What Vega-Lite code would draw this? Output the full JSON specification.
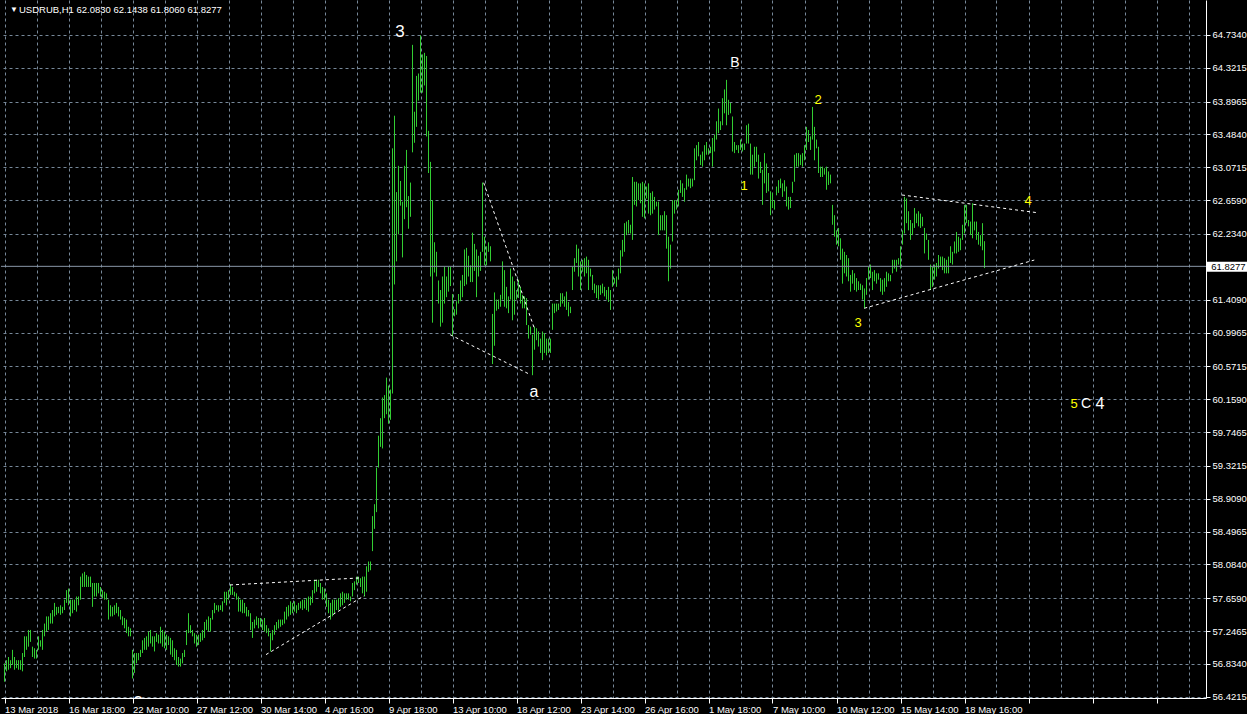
{
"$schema": "https://vega.github.io/schema/vega-lite/v6.json",
"width": 1205,
"height": 698,
"padding": 0,
"autosize": {"type": "pad"},
"background": "#000000",
"config": {"view": {"stroke": null}},
"datasets": {
"bars": [
{"i":0,"h":56.84,"l":56.61},{"i":1,"h":56.88,"l":56.74},{"i":2,"h":56.92,"l":56.76},{"i":3,"h":56.88,"l":56.78},{"i":4,"h":57.01,"l":56.82},
{"i":5,"h":56.92,"l":56.76},{"i":6,"h":56.88,"l":56.78},{"i":7,"h":56.88,"l":56.76},{"i":8,"h":56.88,"l":56.76},{"i":9,"h":56.97,"l":56.74},
{"i":10,"h":57.18,"l":56.92},{"i":11,"h":57.18,"l":57.01},{"i":12,"h":57.26,"l":57.05},{"i":13,"h":57.26,"l":57.11},{"i":14,"h":57.05,"l":56.92},
{"i":15,"h":57.03,"l":56.90},{"i":16,"h":57.01,"l":56.90},{"i":17,"h":57.18,"l":57.01},{"i":18,"h":57.13,"l":57.05},{"i":19,"h":57.26,"l":57.01},
{"i":20,"h":57.34,"l":57.18},{"i":21,"h":57.43,"l":57.24},{"i":22,"h":57.43,"l":57.26},{"i":23,"h":57.47,"l":57.34},{"i":24,"h":57.51,"l":57.34},
{"i":25,"h":57.60,"l":57.43},{"i":26,"h":57.55,"l":57.45},{"i":27,"h":57.55,"l":57.47},{"i":28,"h":57.57,"l":57.45},{"i":29,"h":57.55,"l":57.47},
{"i":30,"h":57.64,"l":57.51},{"i":31,"h":57.76,"l":57.60},{"i":32,"h":57.78,"l":57.57},{"i":33,"h":57.64,"l":57.43},{"i":34,"h":57.64,"l":57.47},
{"i":35,"h":57.64,"l":57.51},{"i":36,"h":57.68,"l":57.49},{"i":37,"h":57.68,"l":57.57},{"i":38,"h":57.93,"l":57.64},{"i":39,"h":57.97,"l":57.80},
{"i":40,"h":57.99,"l":57.80},{"i":41,"h":57.95,"l":57.80},{"i":42,"h":57.93,"l":57.80},{"i":43,"h":57.93,"l":57.80},{"i":44,"h":57.85,"l":57.55},
{"i":45,"h":57.85,"l":57.68},{"i":46,"h":57.85,"l":57.68},{"i":47,"h":57.85,"l":57.72},{"i":48,"h":57.80,"l":57.68},{"i":49,"h":57.76,"l":57.66},
{"i":50,"h":57.74,"l":57.64},{"i":51,"h":57.72,"l":57.64},{"i":52,"h":57.64,"l":57.39},{"i":53,"h":57.57,"l":57.43},{"i":54,"h":57.55,"l":57.43},
{"i":55,"h":57.57,"l":57.45},{"i":56,"h":57.60,"l":57.47},{"i":57,"h":57.55,"l":57.43},{"i":58,"h":57.51,"l":57.39},{"i":59,"h":57.43,"l":57.32},
{"i":60,"h":57.41,"l":57.28},{"i":61,"h":57.39,"l":57.22},{"i":62,"h":57.30,"l":57.18},{"i":63,"h":57.28,"l":57.18},{"i":64,"h":57.01,"l":56.65},
{"i":65,"h":56.97,"l":56.72},{"i":66,"h":56.97,"l":56.84},{"i":67,"h":56.97,"l":56.88},{"i":68,"h":57.01,"l":56.92},{"i":69,"h":57.13,"l":56.97},
{"i":70,"h":57.16,"l":57.01},{"i":71,"h":57.18,"l":57.01},{"i":72,"h":57.24,"l":57.05},{"i":73,"h":57.26,"l":57.09},{"i":74,"h":57.18,"l":57.05},
{"i":75,"h":57.18,"l":56.99},{"i":76,"h":57.22,"l":57.11},{"i":77,"h":57.20,"l":57.09},{"i":78,"h":57.30,"l":57.09},{"i":79,"h":57.26,"l":57.05},
{"i":80,"h":57.24,"l":57.03},{"i":81,"h":57.20,"l":57.01},{"i":82,"h":57.18,"l":57.07},{"i":83,"h":57.16,"l":56.95},{"i":84,"h":57.13,"l":56.92},
{"i":85,"h":57.03,"l":56.88},{"i":86,"h":57.01,"l":56.82},{"i":87,"h":56.92,"l":56.80},{"i":88,"h":56.90,"l":56.80},{"i":89,"h":56.97,"l":56.84},
{"i":90,"h":57.01,"l":56.92},{"i":91,"h":57.26,"l":57.07},{"i":92,"h":57.47,"l":57.22},{"i":93,"h":57.32,"l":57.22},{"i":94,"h":57.26,"l":57.18},
{"i":95,"h":57.22,"l":57.09},{"i":96,"h":57.20,"l":57.05},{"i":97,"h":57.20,"l":57.07},{"i":98,"h":57.22,"l":57.11},{"i":99,"h":57.26,"l":57.13},
{"i":100,"h":57.36,"l":57.16},{"i":101,"h":57.39,"l":57.26},{"i":102,"h":57.43,"l":57.24},{"i":103,"h":57.41,"l":57.24},{"i":104,"h":57.51,"l":57.39},
{"i":105,"h":57.60,"l":57.47},{"i":106,"h":57.57,"l":57.51},{"i":107,"h":57.57,"l":57.49},{"i":108,"h":57.57,"l":57.51},{"i":109,"h":57.62,"l":57.49},
{"i":110,"h":57.74,"l":57.60},{"i":111,"h":57.74,"l":57.57},{"i":112,"h":57.76,"l":57.64},{"i":113,"h":57.83,"l":57.70},{"i":114,"h":57.80,"l":57.70},
{"i":115,"h":57.74,"l":57.68},{"i":116,"h":57.72,"l":57.64},{"i":117,"h":57.68,"l":57.49},{"i":118,"h":57.64,"l":57.49},{"i":119,"h":57.64,"l":57.47},
{"i":120,"h":57.60,"l":57.47},{"i":121,"h":57.55,"l":57.43},{"i":122,"h":57.51,"l":57.43},{"i":123,"h":57.47,"l":57.26},{"i":124,"h":57.36,"l":57.16},
{"i":125,"h":57.39,"l":57.28},{"i":126,"h":57.43,"l":57.32},{"i":127,"h":57.41,"l":57.28},{"i":128,"h":57.41,"l":57.30},{"i":129,"h":57.39,"l":57.26},
{"i":130,"h":57.41,"l":57.24},{"i":131,"h":57.32,"l":57.22},{"i":132,"h":57.28,"l":57.18},{"i":133,"h":57.22,"l":56.99},{"i":134,"h":57.26,"l":57.13},
{"i":135,"h":57.32,"l":57.20},{"i":136,"h":57.36,"l":57.26},{"i":137,"h":57.39,"l":57.28},{"i":138,"h":57.39,"l":57.30},{"i":139,"h":57.39,"l":57.32},
{"i":140,"h":57.49,"l":57.34},{"i":141,"h":57.55,"l":57.39},{"i":142,"h":57.57,"l":57.43},{"i":143,"h":57.62,"l":57.45},{"i":144,"h":57.60,"l":57.47},
{"i":145,"h":57.62,"l":57.49},{"i":146,"h":57.57,"l":57.47},{"i":147,"h":57.60,"l":57.51},{"i":148,"h":57.62,"l":57.53},{"i":149,"h":57.64,"l":57.51},
{"i":150,"h":57.64,"l":57.53},{"i":151,"h":57.66,"l":57.51},{"i":152,"h":57.68,"l":57.49},{"i":153,"h":57.68,"l":57.57},{"i":154,"h":57.76,"l":57.60},
{"i":155,"h":57.89,"l":57.72},{"i":156,"h":57.89,"l":57.74},{"i":157,"h":57.89,"l":57.80},{"i":158,"h":57.85,"l":57.72},{"i":159,"h":57.80,"l":57.64},
{"i":160,"h":57.78,"l":57.64},{"i":161,"h":57.72,"l":57.55},{"i":162,"h":57.64,"l":57.47},{"i":163,"h":57.60,"l":57.39},{"i":164,"h":57.64,"l":57.43},
{"i":165,"h":57.64,"l":57.47},{"i":166,"h":57.64,"l":57.51},{"i":167,"h":57.66,"l":57.51},{"i":168,"h":57.72,"l":57.55},{"i":169,"h":57.74,"l":57.57},
{"i":170,"h":57.72,"l":57.60},{"i":171,"h":57.72,"l":57.64},{"i":172,"h":57.72,"l":57.64},{"i":173,"h":57.68,"l":57.62},{"i":174,"h":57.85,"l":57.68},
{"i":175,"h":57.87,"l":57.76},{"i":176,"h":57.93,"l":57.83},{"i":177,"h":57.93,"l":57.85},{"i":178,"h":57.91,"l":57.80},{"i":179,"h":57.93,"l":57.72},
{"i":180,"h":57.93,"l":57.68},{"i":181,"h":58.06,"l":57.74},{"i":182,"h":58.12,"l":57.99},{"i":183,"h":58.12,"l":58.01},{"i":184,"h":58.69,"l":58.25},
{"i":185,"h":58.84,"l":58.53},{"i":186,"h":59.30,"l":58.74},{"i":187,"h":59.70,"l":59.30},{"i":188,"h":59.92,"l":59.56},{"i":189,"h":60.18,"l":59.54},
{"i":190,"h":60.21,"l":59.92},{"i":191,"h":60.43,"l":59.97},{"i":192,"h":60.33,"l":59.85},{"i":193,"h":60.28,"l":59.90},{"i":194,"h":63.31,"l":60.23},
{"i":195,"h":63.72,"l":61.60},{"i":196,"h":62.76,"l":61.89},{"i":197,"h":63.09,"l":62.23},{"i":198,"h":62.90,"l":62.59},{"i":199,"h":62.64,"l":61.94},
{"i":200,"h":63.09,"l":62.42},{"i":201,"h":63.29,"l":62.57},{"i":202,"h":62.71,"l":62.30},{"i":203,"h":62.88,"l":62.45},{"i":204,"h":64.61,"l":63.26},
{"i":205,"h":63.77,"l":63.38},{"i":206,"h":64.22,"l":63.58},{"i":207,"h":64.25,"l":63.91},{"i":208,"h":64.73,"l":64.01},{"i":209,"h":64.49,"l":64.01},
{"i":210,"h":64.51,"l":64.10},{"i":211,"h":64.47,"l":63.46},{"i":212,"h":63.53,"l":63.00},{"i":213,"h":63.14,"l":61.70},{"i":214,"h":62.66,"l":61.12},
{"i":215,"h":62.13,"l":61.75},{"i":216,"h":62.01,"l":61.70},{"i":217,"h":61.65,"l":61.36},{"i":218,"h":61.53,"l":61.07},{"i":219,"h":61.70,"l":61.12},
{"i":220,"h":61.82,"l":61.36},{"i":221,"h":61.70,"l":61.44},{"i":222,"h":61.82,"l":61.51},{"i":223,"h":61.82,"l":61.58},{"i":224,"h":61.48,"l":60.95},
{"i":225,"h":61.29,"l":61.20},{"i":226,"h":61.39,"l":61.22},{"i":227,"h":61.48,"l":61.36},{"i":228,"h":61.65,"l":61.39},{"i":229,"h":61.72,"l":61.44},
{"i":230,"h":62.04,"l":61.58},{"i":231,"h":62.06,"l":61.60},{"i":232,"h":61.96,"l":61.70},{"i":233,"h":61.84,"l":61.63},{"i":234,"h":62.25,"l":61.63},
{"i":235,"h":62.11,"l":61.77},{"i":236,"h":62.04,"l":61.44},{"i":237,"h":61.96,"l":61.70},{"i":238,"h":62.01,"l":61.77},{"i":239,"h":62.88,"l":62.01},
{"i":240,"h":62.20,"l":61.84},{"i":241,"h":62.08,"l":61.84},{"i":242,"h":62.13,"l":62.01},{"i":243,"h":62.08,"l":61.89},{"i":244,"h":61.23,"l":60.60},
{"i":245,"h":61.50,"l":60.83},{"i":246,"h":61.41,"l":61.27},{"i":247,"h":61.41,"l":61.29},{"i":248,"h":61.47,"l":61.32},{"i":249,"h":61.89,"l":61.41},
{"i":250,"h":61.78,"l":61.32},{"i":251,"h":61.57,"l":61.30},{"i":252,"h":61.45,"l":61.24},{"i":253,"h":61.80,"l":61.41},{"i":254,"h":61.70,"l":61.15},
{"i":255,"h":61.64,"l":61.22},{"i":256,"h":61.53,"l":61.41},{"i":257,"h":61.66,"l":61.43},{"i":258,"h":61.57,"l":61.36},{"i":259,"h":61.47,"l":61.30},
{"i":260,"h":61.45,"l":61.30},{"i":261,"h":61.43,"l":61.09},{"i":262,"h":61.09,"l":60.92},{"i":263,"h":61.07,"l":60.97},{"i":264,"h":60.97,"l":60.46},
{"i":265,"h":61.07,"l":60.78},{"i":266,"h":61.05,"l":60.90},{"i":267,"h":61.01,"l":60.82},{"i":268,"h":60.92,"l":60.74},{"i":269,"h":61.01,"l":60.65},
{"i":270,"h":60.99,"l":60.74},{"i":271,"h":60.92,"l":60.71},{"i":272,"h":60.92,"l":60.74},{"i":273,"h":60.92,"l":60.74},{"i":274,"h":61.36,"l":61.03},
{"i":275,"h":61.36,"l":61.24},{"i":276,"h":61.36,"l":61.26},{"i":277,"h":61.36,"l":61.28},{"i":278,"h":61.49,"l":61.32},{"i":279,"h":61.49,"l":61.36},
{"i":280,"h":61.45,"l":61.32},{"i":281,"h":61.51,"l":61.28},{"i":282,"h":61.38,"l":61.20},{"i":283,"h":61.32,"l":61.24},{"i":284,"h":61.82,"l":61.53},
{"i":285,"h":61.93,"l":61.76},{"i":286,"h":62.10,"l":61.87},{"i":287,"h":62.05,"l":61.70},{"i":288,"h":61.89,"l":61.53},{"i":289,"h":61.91,"l":61.76},
{"i":290,"h":61.93,"l":61.70},{"i":291,"h":61.95,"l":61.74},{"i":292,"h":61.91,"l":61.53},{"i":293,"h":61.80,"l":61.70},{"i":294,"h":61.72,"l":61.53},
{"i":295,"h":61.61,"l":61.49},{"i":296,"h":61.59,"l":61.43},{"i":297,"h":61.59,"l":61.41},{"i":298,"h":61.59,"l":61.47},{"i":299,"h":61.61,"l":61.49},
{"i":300,"h":61.57,"l":61.45},{"i":301,"h":61.53,"l":61.41},{"i":302,"h":61.57,"l":61.38},{"i":303,"h":61.53,"l":61.28},{"i":304,"h":61.78,"l":61.57},
{"i":305,"h":61.68,"l":61.61},{"i":306,"h":61.70,"l":61.57},{"i":307,"h":61.80,"l":61.66},{"i":308,"h":62.03,"l":61.74},{"i":309,"h":62.16,"l":61.95},
{"i":310,"h":62.37,"l":62.01},{"i":311,"h":62.39,"l":62.22},{"i":312,"h":62.41,"l":62.24},{"i":313,"h":62.35,"l":62.24},{"i":314,"h":62.95,"l":62.16},
{"i":315,"h":62.89,"l":62.60},{"i":316,"h":62.89,"l":62.58},{"i":317,"h":62.87,"l":62.66},{"i":318,"h":62.87,"l":62.62},{"i":319,"h":62.89,"l":62.45},
{"i":320,"h":62.87,"l":62.43},{"i":321,"h":62.83,"l":62.68},{"i":322,"h":62.87,"l":62.49},{"i":323,"h":62.75,"l":62.47},{"i":324,"h":62.77,"l":62.49},
{"i":325,"h":62.70,"l":62.54},{"i":326,"h":62.64,"l":62.58},{"i":327,"h":62.64,"l":62.22},{"i":328,"h":62.47,"l":62.28},{"i":329,"h":62.47,"l":62.28},
{"i":330,"h":62.52,"l":62.28},{"i":331,"h":62.47,"l":62.05},{"i":332,"h":62.20,"l":61.64},{"i":333,"h":62.10,"l":61.80},{"i":334,"h":62.66,"l":62.14},
{"i":335,"h":62.66,"l":62.49},{"i":336,"h":62.66,"l":62.54},{"i":337,"h":62.79,"l":62.58},{"i":338,"h":62.91,"l":62.75},{"i":339,"h":62.87,"l":62.70},
{"i":340,"h":62.81,"l":62.64},{"i":341,"h":62.98,"l":62.79},{"i":342,"h":62.93,"l":62.83},{"i":343,"h":62.93,"l":62.81},{"i":344,"h":62.93,"l":62.83},
{"i":345,"h":63.31,"l":62.91},{"i":346,"h":63.35,"l":63.16},{"i":347,"h":63.39,"l":63.21},{"i":348,"h":63.23,"l":63.10},{"i":349,"h":63.27,"l":63.08},
{"i":350,"h":63.35,"l":63.16},{"i":351,"h":63.39,"l":63.23},{"i":352,"h":63.31,"l":63.23},{"i":353,"h":63.33,"l":63.25},{"i":354,"h":63.44,"l":63.08},
{"i":355,"h":63.48,"l":63.27},{"i":356,"h":63.65,"l":63.42},{"i":357,"h":63.81,"l":63.50},{"i":358,"h":63.65,"l":63.54},{"i":359,"h":63.94,"l":63.60},
{"i":360,"h":64.05,"l":63.75},{"i":361,"h":64.17,"l":63.60},{"i":362,"h":63.92,"l":63.73},{"i":363,"h":63.88,"l":63.75},{"i":364,"h":63.71,"l":63.27},
{"i":365,"h":63.39,"l":63.25},{"i":366,"h":63.35,"l":63.29},{"i":367,"h":63.35,"l":63.25},{"i":368,"h":63.42,"l":63.29},{"i":369,"h":63.37,"l":63.27},
{"i":370,"h":63.37,"l":63.29},{"i":371,"h":63.60,"l":63.37},{"i":372,"h":63.62,"l":63.37},{"i":373,"h":63.37,"l":62.98},{"i":374,"h":63.23,"l":62.98},
{"i":375,"h":63.33,"l":63.08},{"i":376,"h":63.33,"l":63.14},{"i":377,"h":63.23,"l":62.93},{"i":378,"h":63.14,"l":63.00},{"i":379,"h":63.04,"l":62.60},
{"i":380,"h":63.25,"l":62.87},{"i":381,"h":63.12,"l":62.75},{"i":382,"h":63.00,"l":62.77},{"i":383,"h":62.77,"l":62.47},{"i":384,"h":62.75,"l":62.56},
{"i":385,"h":62.66,"l":62.54},{"i":386,"h":62.83,"l":62.72},{"i":387,"h":62.91,"l":62.75},{"i":388,"h":62.93,"l":62.81},{"i":389,"h":62.87,"l":62.70},
{"i":390,"h":62.91,"l":62.77},{"i":391,"h":62.83,"l":62.58},{"i":392,"h":62.70,"l":62.54},{"i":393,"h":62.70,"l":62.56},{"i":394,"h":62.89,"l":62.75},
{"i":395,"h":63.23,"l":62.89},{"i":396,"h":63.25,"l":63.08},{"i":397,"h":63.25,"l":63.08},{"i":398,"h":63.23,"l":63.10},{"i":399,"h":63.25,"l":63.08},
{"i":400,"h":63.35,"l":63.16},{"i":401,"h":63.58,"l":63.29},{"i":402,"h":63.54,"l":63.39},{"i":403,"h":63.46,"l":63.29},{"i":404,"h":63.83,"l":63.42},
{"i":405,"h":63.58,"l":63.16},{"i":406,"h":63.42,"l":63.31},{"i":407,"h":63.33,"l":63.00},{"i":408,"h":63.08,"l":62.95},{"i":409,"h":63.08,"l":62.95},
{"i":410,"h":63.06,"l":62.98},{"i":411,"h":63.08,"l":62.79},{"i":412,"h":63.02,"l":62.85},{"i":413,"h":62.98,"l":62.87},{"i":414,"h":62.60,"l":62.35},
{"i":415,"h":62.47,"l":62.20},{"i":416,"h":62.28,"l":62.10},{"i":417,"h":62.31,"l":62.08},{"i":418,"h":62.18,"l":61.91},{"i":419,"h":62.05,"l":61.61},
{"i":420,"h":62.01,"l":61.74},{"i":421,"h":61.97,"l":61.70},{"i":422,"h":61.93,"l":61.64},{"i":423,"h":61.72,"l":61.51},{"i":424,"h":61.78,"l":61.61},
{"i":425,"h":61.74,"l":61.53},{"i":426,"h":61.68,"l":61.51},{"i":427,"h":61.64,"l":61.53},{"i":428,"h":61.61,"l":61.53},{"i":429,"h":61.59,"l":61.41},
{"i":430,"h":61.55,"l":61.30},{"i":431,"h":61.68,"l":61.47},{"i":432,"h":61.82,"l":61.66},{"i":433,"h":61.85,"l":61.68},{"i":434,"h":61.76,"l":61.53},
{"i":435,"h":61.78,"l":61.64},{"i":436,"h":61.74,"l":61.61},{"i":437,"h":61.74,"l":61.66},{"i":438,"h":61.68,"l":61.51},{"i":439,"h":61.66,"l":61.47},
{"i":440,"h":61.68,"l":61.51},{"i":441,"h":61.76,"l":61.57},{"i":442,"h":61.74,"l":61.64},{"i":443,"h":61.72,"l":61.64},{"i":444,"h":61.91,"l":61.74},
{"i":445,"h":61.91,"l":61.80},{"i":446,"h":61.91,"l":61.76},{"i":447,"h":61.93,"l":61.85},{"i":448,"h":62.08,"l":61.80},{"i":449,"h":62.28,"l":62.10},
{"i":450,"h":62.70,"l":62.24},{"i":451,"h":62.68,"l":62.37},{"i":452,"h":62.52,"l":62.28},{"i":453,"h":62.41,"l":62.16},{"i":454,"h":62.37,"l":62.22},
{"i":455,"h":62.56,"l":62.31},{"i":456,"h":62.49,"l":62.37},{"i":457,"h":62.52,"l":62.33},{"i":458,"h":62.49,"l":62.31},{"i":459,"h":62.45,"l":62.33},
{"i":460,"h":62.31,"l":61.99},{"i":461,"h":62.24,"l":62.16},{"i":462,"h":62.16,"l":61.91},{"i":463,"h":61.85,"l":61.53},{"i":464,"h":61.82,"l":61.57},
{"i":465,"h":61.85,"l":61.66},{"i":466,"h":61.87,"l":61.70},{"i":467,"h":61.97,"l":61.80},{"i":468,"h":61.95,"l":61.82},{"i":469,"h":61.95,"l":61.78},
{"i":470,"h":61.93,"l":61.74},{"i":471,"h":61.91,"l":61.74},{"i":472,"h":61.95,"l":61.74},{"i":473,"h":62.08,"l":61.87},{"i":474,"h":62.01,"l":61.85},
{"i":475,"h":62.14,"l":61.99},{"i":476,"h":62.26,"l":61.99},{"i":477,"h":62.20,"l":62.01},{"i":478,"h":62.18,"l":62.03},{"i":479,"h":62.35,"l":62.16},
{"i":480,"h":62.60,"l":62.24},{"i":481,"h":62.60,"l":62.37},{"i":482,"h":62.41,"l":62.33},{"i":483,"h":62.39,"l":62.22},{"i":484,"h":62.62,"l":62.18},
{"i":485,"h":62.39,"l":62.28},{"i":486,"h":62.39,"l":62.16},{"i":487,"h":62.26,"l":62.10},{"i":488,"h":62.22,"l":62.08},{"i":489,"h":62.37,"l":62.03},
{"i":490,"h":62.1438,"l":61.806}
],
"lines": [
{"seg":"t1","i":112.75,"l":57.825},{"seg":"t1","i":177.25,"l":57.913},
{"seg":"t2","i":130.75,"l":56.95},{"seg":"t2","i":179.9,"l":57.69},
{"seg":"t3","i":239.6,"l":62.878},{"seg":"t3","i":264.9,"l":61.05},
{"seg":"t4","i":222.8,"l":60.969},{"seg":"t4","i":262.3,"l":60.475},
{"seg":"t5","i":448.75,"l":62.724},{"seg":"t5","i":516.25,"l":62.502},
{"seg":"t6","i":429.9,"l":61.301},{"seg":"t6","i":514.9,"l":61.907}
],
"labels": [
{"i":197.75,"l":64.771,"t":"3","c":"#ffffff","s":17},
{"i":365.25,"l":64.382,"t":"B","c":"#ffffff","s":14},
{"i":264.75,"l":60.249,"t":"a","c":"#ffffff","s":16},
{"i":406.75,"l":63.917,"t":"2","c":"#ffff00","s":13},
{"i":369.75,"l":62.837,"t":"1","c":"#ffff00","s":13},
{"i":426.75,"l":61.116,"t":"3","c":"#ffff00","s":13},
{"i":511.75,"l":62.649,"t":"4","c":"#ffff00","s":13},
{"i":534.75,"l":60.098,"t":"5","c":"#ffff00","s":13},
{"i":540.75,"l":60.098,"t":"C","c":"#ffffff","s":14},
{"i":547.75,"l":60.098,"t":"4","c":"#ffffff","s":16}
]
},
"layer": [
{
"data": {"name": "bars"},
"mark": {"type": "rule", "color": "#32cd32", "strokeWidth": 1},
"encoding": {
"x": {"field": "i", "type": "quantitative",
 "scale": {"domain": [-1.75, 600.75], "nice": false, "zero": false},
 "axis": {"title": null, "tickCount": 200, "values": [0,16,32,48,64,80,96,112,128,144,160,176,192,208,224,240,256,272,288,304,320,336,352,368,384,400,416,432,448,464,480,496,512,528,544,560,576,592],
  "grid": true, "gridDash": [3,3], "gridColor": "#778899", "gridOpacity": 1,
  "domainColor": "#ffffff", "tickColor": {"condition": {"test": "datum.value % 32 == 0", "value": "#ffffff"}, "value": "transparent"},
  "tickSize": 5, "labelAlign": "left", "labelBaseline": "top", "labelPadding": 1, "labelColor": "#ffffff",
  "labelFont": "Liberation Sans", "labelFontSize": 9.5, "labelOverlap": false, "labelFlush": false, "labelBound": false,
  "labelExpr": "datum.value % 32 == 0 ? ['13 Mar 2018','16 Mar 18:00','22 Mar 10:00','27 Mar 12:00','30 Mar 14:00','4 Apr 16:00','9 Apr 18:00','13 Apr 10:00','18 Apr 12:00','23 Apr 14:00','26 Apr 16:00','1 May 18:00','7 May 10:00','10 May 12:00','15 May 14:00','18 May 16:00','','','',''][datum.value / 32] : ''"}},
"y": {"field": "l", "type": "quantitative",
 "scale": {"domain": [56.4051, 65.1735], "nice": false, "zero": false},
 "axis": {"title": null, "orient": "right", "tickCount": 200, "values": [64.734,64.3215,63.8965,63.484,63.0715,62.659,62.234,61.4090,60.9965,60.5715,60.159,59.7465,59.3215,58.909,58.4965,58.084,57.659,57.2465,56.834,56.4215],
  "format": ".4f", "grid": true, "gridDash": [3,3], "gridColor": "#778899", "gridOpacity": 1,
  "domainColor": "#ffffff", "tickColor": "#ffffff", "tickSize": 4, "labelPadding": 2, "labelColor": "#ffffff",
  "labelFont": "Liberation Sans", "labelFontSize": 9.5, "labelOverlap": false, "labelBound": false, "labelFlush": false}},
"y2": {"field": "h"}
}
},
{
"data": {"values": [{"l": 61.8277}]},
"mark": {"type": "rule", "color": "#8a97a8", "strokeWidth": 1},
"encoding": {"y": {"field": "l", "type": "quantitative", "scale": {"domain": [56.4051, 65.1735], "nice": false, "zero": false}}}
},
{
"data": {"name": "lines"},
"mark": {"type": "line", "color": "#ffffff", "strokeWidth": 1, "strokeDash": [3,3]},
"encoding": {
"x": {"field": "i", "type": "quantitative", "scale": {"domain": [-1.75, 600.75], "nice": false, "zero": false}},
"y": {"field": "l", "type": "quantitative", "scale": {"domain": [56.4051, 65.1735], "nice": false, "zero": false}},
"detail": {"field": "seg"}
}
},
{
"data": {"name": "labels"},
"mark": {"type": "text", "font": "Liberation Sans", "baseline": "middle", "align": "center"},
"encoding": {
"x": {"field": "i", "type": "quantitative", "scale": {"domain": [-1.75, 600.75], "nice": false, "zero": false}},
"y": {"field": "l", "type": "quantitative", "scale": {"domain": [56.4051, 65.1735], "nice": false, "zero": false}},
"text": {"field": "t"},
"color": {"field": "c", "type": "nominal", "scale": null},
"size": {"field": "s", "type": "quantitative", "scale": null}
}
},
{
"data": {"values": [{"i": 66.75, "l": 56.3424, "t": "2"}]},
"mark": {"type": "text", "font": "Liberation Sans", "fontSize": 17, "baseline": "middle", "align": "center", "color": "#ffffff", "clip": true},
"encoding": {
"x": {"field": "i", "type": "quantitative", "scale": {"domain": [-1.75, 600.75], "nice": false, "zero": false}},
"y": {"field": "l", "type": "quantitative", "scale": {"domain": [56.4051, 65.1735], "nice": false, "zero": false}},
"text": {"field": "t"}
}
},
{
"data": {"values": [{"i": 2.75, "l": 65.05, "t": "▼", "s": 8}, {"i": 7.25, "l": 65.048, "t": "USDRUB,H1  62.0830 62.1438 61.8060 61.8277", "s": 9.5}]},
"mark": {"type": "text", "font": "Liberation Sans", "baseline": "middle", "align": "left", "color": "#ffffff"},
"encoding": {
"x": {"field": "i", "type": "quantitative", "scale": {"domain": [-1.75, 600.75], "nice": false, "zero": false}},
"y": {"field": "l", "type": "quantitative", "scale": {"domain": [56.4051, 65.1735], "nice": false, "zero": false}},
"text": {"field": "t"},
"size": {"field": "s", "type": "quantitative", "scale": null}
}
},
{
"data": {"values": [{"i": 601.1, "i2": 622.5, "l": 61.760, "l2": 61.886}]},
"mark": {"type": "rect", "color": "#ffffff"},
"encoding": {
"x": {"field": "i", "type": "quantitative", "scale": {"domain": [-1.75, 600.75], "nice": false, "zero": false}},
"x2": {"field": "i2"},
"y": {"field": "l", "type": "quantitative", "scale": {"domain": [56.4051, 65.1735], "nice": false, "zero": false}},
"y2": {"field": "l2"}
}
},
{
"data": {"values": [{"i": 603.4, "l": 61.8235, "t": "61.8277"}]},
"mark": {"type": "text", "font": "Liberation Sans", "fontSize": 9.5, "baseline": "middle", "align": "left", "color": "#000000"},
"encoding": {
"x": {"field": "i", "type": "quantitative", "scale": {"domain": [-1.75, 600.75], "nice": false, "zero": false}},
"y": {"field": "l", "type": "quantitative", "scale": {"domain": [56.4051, 65.1735], "nice": false, "zero": false}},
"text": {"field": "t"}
}
}
]
}
